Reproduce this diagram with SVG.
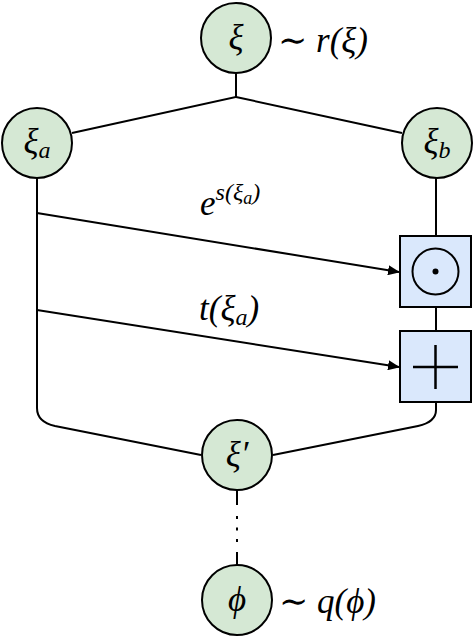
<svg xmlns="http://www.w3.org/2000/svg" width="474" height="638" viewBox="0 0 474 638">
<defs>
<style>
.node{fill:#d5e8d4;stroke:#000;stroke-width:2}
.box{fill:#dae8fc;stroke:#000;stroke-width:2}
.edge{fill:none;stroke:#000;stroke-width:2}
.m{font-family:"Liberation Serif","DejaVu Serif",serif;font-style:italic;font-size:35px;fill:#000}
.r{font-style:normal}
.sub{font-size:24px}
.sub2{font-size:18px}
</style>
<marker id="arr" markerWidth="12" markerHeight="10" refX="11" refY="5" orient="auto" markerUnits="userSpaceOnUse">
<path d="M0,0 L12,5 L0,10 Z" fill="#000"/>
</marker>
</defs>
<g id="connectors">
<path class="edge" d="M236,73 V97 L72,133"/>
<path class="edge" d="M236,97 L402,133"/>
<path class="edge" d="M436,178 V236"/>
<path class="edge" d="M436,307 V330"/>
<path class="edge" d="M37,178 V408 Q37,422 55,426 L201,455"/>
<path class="edge" d="M436,402 V410 Q436,422 418,426 L273,455"/>
<path class="edge" d="M37,213 L399,272" marker-end="url(#arr)"/>
<path class="edge" d="M37,310 L399,367" marker-end="url(#arr)"/>
<path class="edge" d="M237,490 V505 M237,552 V565"/>
<path class="edge" d="M237,516 V544" stroke-width="2.5" stroke-dasharray="3 8.5"/>
</g>
<g id="xi">
<circle class="node" cx="236" cy="38" r="35"/>
<text class="m" x="236" y="49" text-anchor="middle">ξ</text>
</g>
<text class="m" x="278" y="52"><tspan class="r">∼</tspan> r(ξ)</text>
<g id="xi_a">
<circle class="node" cx="37" cy="143" r="35"/>
<text class="m" x="37" y="153" text-anchor="middle">ξ<tspan class="sub" dy="5">a</tspan></text>
</g>
<g id="xi_b">
<circle class="node" cx="437" cy="143" r="35"/>
<text class="m" x="437" y="153" text-anchor="middle">ξ<tspan class="sub" dy="5">b</tspan></text>
</g>
<g id="odot">
<rect class="box" x="400" y="236" width="71" height="71"/>
<circle cx="435.5" cy="271.5" r="23" fill="none" stroke="#000" stroke-width="2"/>
<circle cx="435.5" cy="271.5" r="3" fill="#000"/>
</g>
<g id="plus">
<rect class="box" x="400" y="331" width="71" height="71"/>
<path d="M413,367 H458 M435.5,345 V389" stroke="#000" stroke-width="2.5"/>
</g>
<text class="m" x="200" y="215">e<tspan class="sub" dy="-15">s(ξ</tspan><tspan class="sub2" dy="4">a</tspan><tspan class="sub" dy="-4">)</tspan></text>
<text class="m" x="199" y="320">t(ξ<tspan class="sub" dy="5">a</tspan><tspan dy="-5">)</tspan></text>
<g id="xi_prime">
<circle class="node" cx="237" cy="455" r="35"/>
<text class="m" x="237" y="466" text-anchor="middle">ξ′</text>
</g>
<g id="phi">
<circle class="node" cx="237" cy="600" r="35"/>
<text class="m" x="237" y="611" text-anchor="middle">ϕ</text>
</g>
<text class="m" x="279" y="613"><tspan class="r">∼</tspan> q(ϕ)</text>
</svg>
